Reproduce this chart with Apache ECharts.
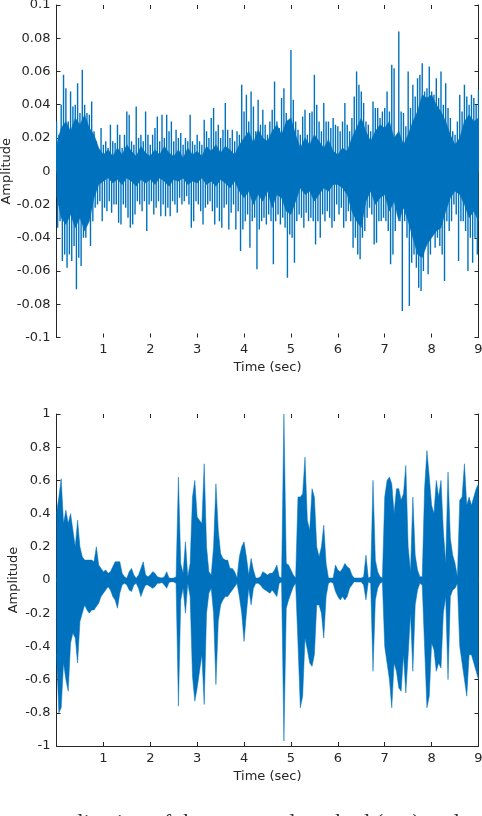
<!DOCTYPE html>
<html>
<head>
<meta charset="utf-8">
<style>html,body{margin:0;padding:0;background:#fff;overflow:hidden}#c{width:482px;height:816px}</style>
<script src="https://cdn.jsdelivr.net/npm/echarts@6/dist/echarts.min.js"></script>
</head>
<body>
<div id="c"></div>
<script>
// Envelope of each waveform: one value per 0.05 s (one row = one second).
const binSeconds = 0.05;
const topHigh = [
.03,.022,.04,.058,.05,.03,.048,.039,.04,.053,.035,.061,.04,.035,.034,.042,.024,.018,.012,.026,
.016,.018,.014,.028,.018,.017,.028,.022,.014,.022,.036,.034,.018,.016,.039,.02,.022,.018,.036,.022,
.016,.022,.026,.033,.018,.034,.02,.034,.024,.03,.018,.025,.02,.023,.016,.02,.018,.034,.018,.016,
.022,.018,.016,.031,.024,.02,.032,.038,.024,.028,.02,.025,.041,.025,.02,.025,.018,.024,.022,.052,
.036,.046,.03,.048,.039,.024,.043,.028,.037,.028,.022,.03,.037,.054,.03,.026,.044,.05,.035,.028,
.073,.043,.03,.025,.022,.033,.037,.022,.035,.036,.058,.04,.03,.024,.041,.03,.03,.026,.032,.028,
.027,.024,.03,.041,.028,.024,.032,.045,.06,.052,.048,.041,.03,.028,.024,.042,.038,.038,.032,.036,
.038,.048,.036,.064,.062,.02,.084,.036,.035,.027,.06,.038,.052,.045,.056,.058,.065,.048,.05,.063,
.048,.046,.056,.044,.06,.04,.053,.038,.032,.024,.022,.03,.046,.036,.052,.045,.04,.046,.044,.04,
.049];
const topLow = [
-.034,-.03,-.054,-.05,-.058,-.05,-.054,-.045,-.071,-.052,-.057,-.04,-.04,-.03,-.045,-.03,-.022,-.02,-.018,-.03,
-.022,-.024,-.018,-.025,-.02,-.02,-.031,-.032,-.02,-.022,-.028,-.034,-.032,-.026,-.018,-.02,-.024,-.018,-.036,-.02,
-.018,-.026,-.022,-.018,-.027,-.02,-.027,-.022,-.027,-.018,-.02,-.025,-.016,-.02,-.018,-.015,-.02,-.034,-.03,-.018,
-.02,-.024,-.032,-.022,-.02,-.018,-.024,-.032,-.022,-.03,-.034,-.022,-.02,-.035,-.025,-.02,-.035,-.024,-.048,-.035,
-.03,-.026,-.046,-.03,-.028,-.059,-.035,-.03,-.028,-.032,-.026,-.03,-.056,-.03,-.026,-.032,-.028,-.034,-.064,-.038,
-.04,-.055,-.03,-.026,-.028,-.034,-.025,-.03,-.028,-.03,-.044,-.03,-.04,-.026,-.03,-.024,-.028,-.034,-.03,-.02,
-.026,-.022,-.034,-.03,-.024,-.03,-.046,-.04,-.05,-.053,-.04,-.036,-.028,-.022,-.026,-.044,-.043,-.03,-.03,-.028,
-.03,-.036,-.056,-.05,-.036,-.026,-.03,-.084,-.03,-.04,-.081,-.055,-.05,-.058,-.07,-.072,-.06,-.045,-.062,-.05,
-.038,-.046,-.04,-.045,-.05,-.066,-.03,-.036,-.03,-.02,-.026,-.054,-.03,-.03,-.036,-.06,-.04,-.055,-.04,-.05,
-.056];
// Solid body of the top waveform, one value per 0.1 s (one row = one second).
const coreSeconds = 0.1;
const topCoreHigh = [
.016,.026,.03,.024,.032,.028,.034,.026,.022,.014,
.01,.013,.009,.014,.01,.016,.012,.009,.015,.011,
.009,.013,.01,.015,.011,.009,.013,.008,.014,.01,
.012,.009,.015,.012,.016,.011,.015,.013,.01,.016,
.02,.024,.017,.025,.02,.018,.024,.028,.022,.03,
.032,.022,.014,.02,.016,.022,.018,.014,.019,.012,
.01,.014,.012,.02,.026,.032,.024,.018,.024,.028,
.026,.03,.02,.024,.016,.022,.03,.036,.046,.044,
.046,.04,.036,.03,.022,.016,.02,.03,.034,.03,
.032];
const topCoreLow = [
-.014,-.028,-.032,-.026,-.034,-.028,-.036,-.03,-.016,-.008,
-.006,-.004,-.007,-.005,-.008,-.004,-.006,-.009,-.005,-.007,
-.005,-.008,-.004,-.006,-.009,-.005,-.006,-.004,-.008,-.006,
-.007,-.004,-.008,-.006,-.009,-.005,-.007,-.01,-.006,-.012,
-.016,-.012,-.02,-.014,-.018,-.012,-.022,-.014,-.016,-.024,
-.026,-.018,-.01,-.014,-.012,-.018,-.014,-.01,-.012,-.008,
-.008,-.01,-.014,-.024,-.03,-.034,-.018,-.012,-.02,-.016,
-.014,-.024,-.018,-.03,-.022,-.03,-.04,-.05,-.052,-.044,
-.04,-.036,-.034,-.024,-.016,-.012,-.014,-.02,-.028,-.024,
-.03];
const bottomHigh = [
.4,.5,.61,.34,.42,.34,.4,.3,.2,.36,.2,.14,.12,.12,.12,.12,.11,.2,.09,.07,
.05,.06,.04,.05,.08,.11,.11,.11,.04,.02,.01,.05,.07,.03,.01,.03,.07,.11,.03,.02,
.03,.05,.04,.02,.015,.012,.02,.05,.012,.01,.012,.02,.62,.1,.04,.23,.02,.1,.5,.6,
.38,.36,.34,.7,.2,.05,.03,.2,.58,.3,.16,.13,.12,.12,.07,.07,.05,.012,.14,.2,
.23,.14,.03,.13,.06,.012,.012,.02,.05,.04,.03,.04,.04,.06,.09,.02,.012,1.0,.1,.09,
.06,.03,.012,.5,.5,.52,.74,.36,.3,.55,.5,.2,.14,.2,.33,.1,.012,.012,.012,.09,
.06,.05,.07,.1,.08,.07,.03,.012,.012,.012,.012,.02,.15,.012,.02,.6,.12,.05,.02,.012,
.5,.6,.62,.58,.4,.55,.55,.48,.52,.69,.2,.05,.5,.15,.06,.02,.02,.55,.78,.62,
.45,.4,.6,.5,.6,.3,.1,.65,.25,.15,.1,.02,.48,.5,.7,.45,.5,.45,.5,.55,
.58];
const bottomLow = [
-.45,-.8,-.77,-.5,-.6,-.67,-.38,-.32,-.35,-.5,-.25,-.2,-.15,-.18,-.2,-.18,-.18,-.16,-.14,-.1,
-.08,-.06,-.04,-.06,-.1,-.12,-.17,-.08,-.03,-.02,-.03,-.06,-.07,-.03,-.02,-.05,-.1,-.06,-.03,-.03,
-.04,-.05,-.04,-.02,-.02,-.015,-.03,-.05,-.015,-.01,-.012,-.02,-.76,-.12,-.05,-.2,-.02,-.1,-.58,-.73,
-.65,-.55,-.45,-.75,-.2,-.08,-.05,-.2,-.63,-.25,-.15,-.12,-.1,-.1,-.08,-.06,-.04,-.02,-.1,-.2,
-.37,-.2,-.05,-.15,-.05,-.02,-.02,-.03,-.05,-.06,-.07,-.08,-.06,-.08,-.1,-.02,-.012,-.97,-.17,-.12,
-.08,-.04,-.02,-.38,-.77,-.7,-.35,-.42,-.5,-.52,-.45,-.15,-.15,-.2,-.35,-.1,-.02,-.012,-.02,-.07,
-.1,-.12,-.1,-.12,-.1,-.05,-.03,-.01,-.012,-.012,-.012,-.03,-.12,-.012,-.02,-.55,-.12,-.05,-.02,-.012,
-.4,-.5,-.6,-.77,-.5,-.55,-.65,-.67,-.45,-.68,-.45,-.2,-.55,-.15,-.06,-.02,-.03,-.4,-.77,-.7,
-.38,-.42,-.55,-.5,-.53,-.2,-.1,-.6,-.1,-.06,-.05,-.02,-.4,-.5,-.6,-.7,-.45,-.45,-.5,-.55,
-.6];
const xLabel = 'Time (sec)';
const yLabel = 'Amplitude';
const caption = 'application of the proposed method (top) and';

const waveColor = '#0072BD';
const inkColor = '#262626';
const fontFamily = '"DejaVu Sans", sans-serif';
const fontSize = 13;

const fmt = v => String(+v.toFixed(2));

function xAxes(g, hasLine) {
  const base = {
    gridIndex: g, type: 'value', min: 0, max: 9, interval: 1,
    splitLine: {show: false}, minorTick: {show: false},
    axisTick: {show: true, inside: true, length: 4, lineStyle: {color: inkColor, width: 1}}
  };
  return [
    Object.assign({}, base, {
      position: 'bottom',
      axisLine: {show: hasLine, onZero: false, lineStyle: {color: inkColor, width: 1}},
      axisLabel: {color: inkColor, fontFamily, fontSize, margin: 6, showMinLabel: true,
        formatter: v => v === 0 ? '' : String(v)},
      name: xLabel, nameLocation: 'middle', nameGap: 24, nameMoveOverlap: false,
      nameTextStyle: {color: inkColor, fontFamily, fontSize}
    }),
    Object.assign({}, base, {
      position: 'top',
      axisLine: {show: false, onZero: false},
      axisLabel: {show: false}
    })
  ];
}
function yAxes(g, range, step, nameGap) {
  const base = {
    gridIndex: g, type: 'value', min: -range, max: range, interval: step,
    splitLine: {show: false},
    axisLine: {show: true, onZero: false, lineStyle: {color: inkColor, width: 1}},
    axisTick: {show: true, inside: true, length: 4, lineStyle: {color: inkColor, width: 1}}
  };
  return [
    Object.assign({}, base, {
      position: 'left',
      axisLabel: {color: inkColor, fontFamily, fontSize, margin: 6, formatter: fmt},
      name: yLabel, nameLocation: 'middle', nameGap, nameRotate: 90, nameMoveOverlap: false,
      nameTextStyle: {color: inkColor, fontFamily, fontSize}
    }),
    Object.assign({}, base, {position: 'right', axisLabel: {show: false}})
  ];
}
// A filled envelope back to (just past) the zero line, so the two halves overlap.
function envelope(xi, yi, values, seconds, origin) {
  return {
    type: 'line', xAxisIndex: xi, yAxisIndex: yi,
    data: values.map((v, i) => [i * seconds, v]),
    showSymbol: false, symbol: 'none', sampling: false, silent: true, clip: true,
    lineStyle: {color: waveColor, width: 0.5},
    areaStyle: {color: waveColor, opacity: 1, origin}
  };
}
// Thin vertical strokes for the waveform's individual peaks.
function strokes(xi, yi, high, low) {
  return {
    type: 'custom', xAxisIndex: xi, yAxisIndex: yi, silent: true, clip: true,
    data: high.map((h, i) => [i * binSeconds, h, low[i]]),
    encode: {x: 0, y: [1, 2]},
    renderItem(params, api) {
      const t = api.value(0);
      const style = {stroke: waveColor, lineWidth: 1.4, fill: null};
      const a = api.coord([t, 0]);
      const b = api.coord([t, api.value(1)]);
      const c = api.coord([t + binSeconds / 2, 0]);
      const d = api.coord([t + binSeconds / 2, api.value(2)]);
      return {type: 'group', children: [
        {type: 'line', shape: {x1: a[0], y1: a[1], x2: b[0], y2: b[1]}, style},
        {type: 'line', shape: {x1: c[0], y1: c[1], x2: d[0], y2: d[1]}, style}
      ]};
    }
  };
}

const chart = echarts.init(document.getElementById('c'), null, {renderer: 'canvas'});
chart.setOption({
  animation: false,
  backgroundColor: '#fff',
  grid: [
    {left: 56.5, right: 3.5, top: 5, bottom: 478.5, outerBoundsMode: 'none'},
    {left: 56.5, right: 3.5, top: 414, bottom: 70, outerBoundsMode: 'none'}
  ],
  xAxis: [...xAxes(0, false), ...xAxes(1, true)],
  yAxis: [...yAxes(0, 0.1, 0.02, 43), ...yAxes(1, 1, 0.2, 36)],
  series: [
    envelope(0, 0, topCoreHigh, coreSeconds, -0.002),
    envelope(0, 0, topCoreLow, coreSeconds, 0.002),
    strokes(0, 0, topHigh, topLow),
    envelope(2, 2, bottomHigh, binSeconds, -0.01),
    envelope(2, 2, bottomLow, binSeconds, 0.01)
  ],
  graphic: [{
    type: 'text', x: 44, y: 812.5,
    style: {text: caption, font: '23px "Liberation Serif", serif', fill: '#333', verticalAlign: 'top'}
  }]
});
</script>
</body>
</html>
